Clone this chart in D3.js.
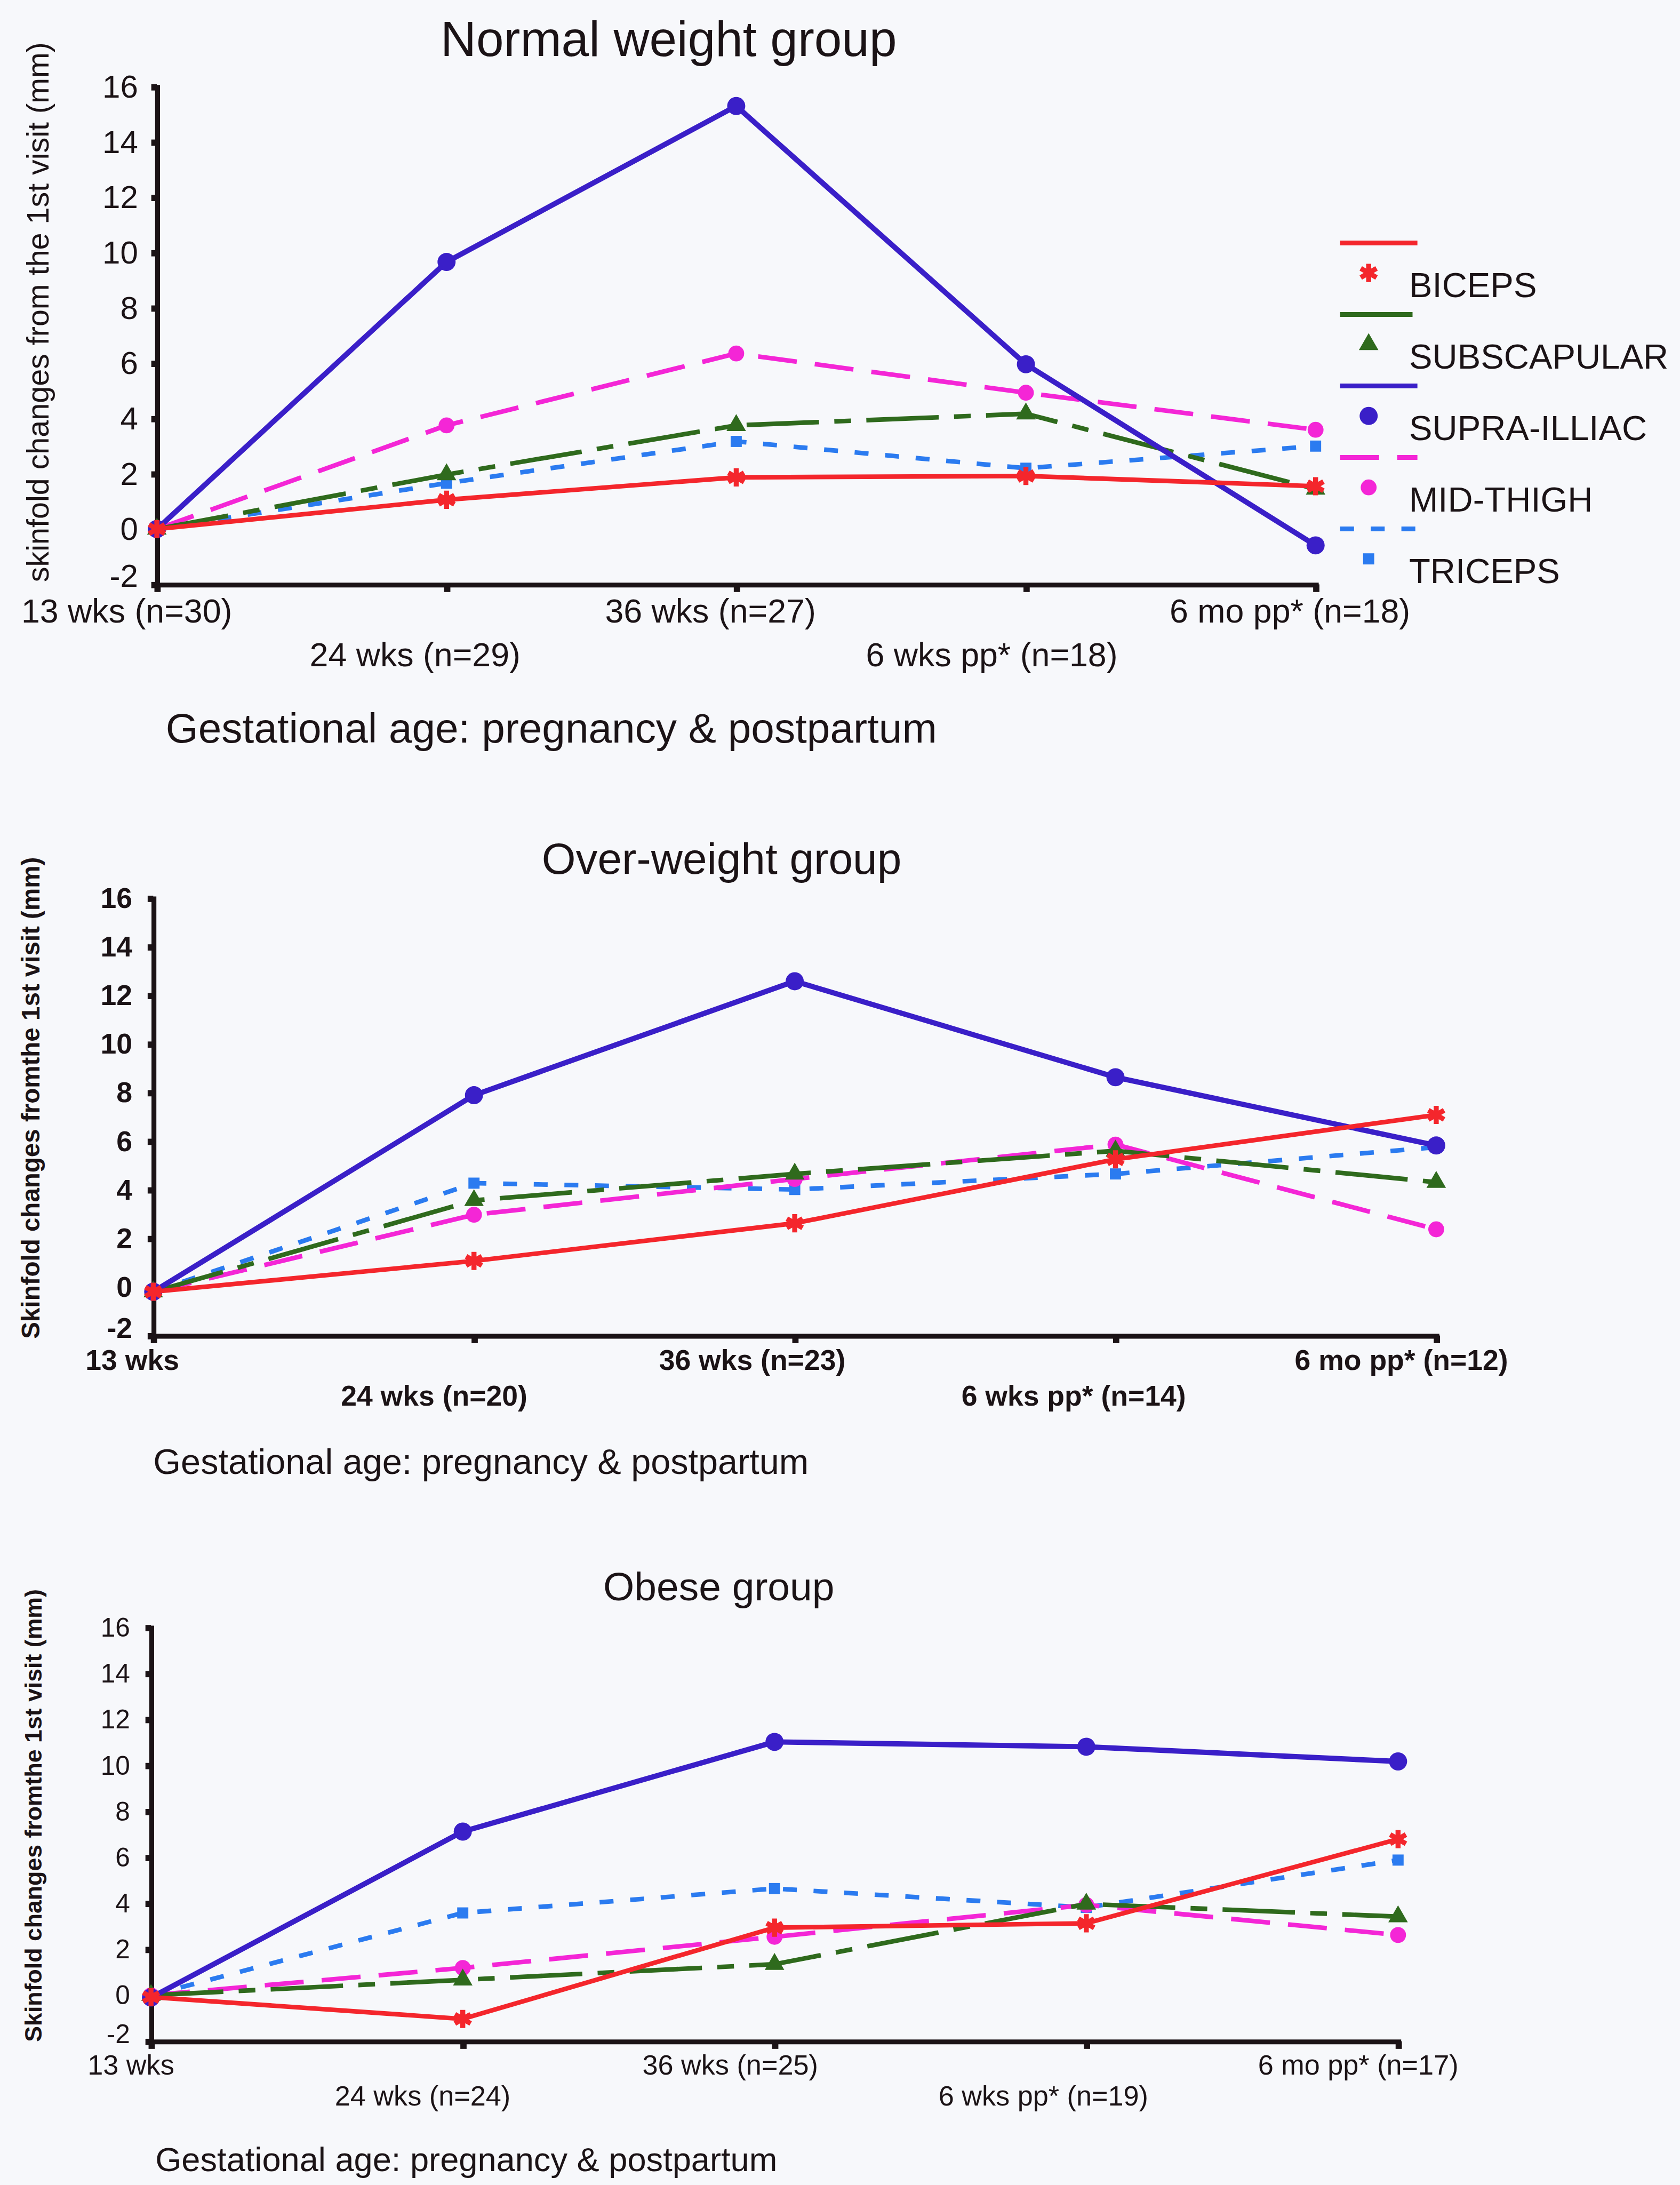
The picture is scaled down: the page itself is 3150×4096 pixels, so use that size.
<!DOCTYPE html>
<html lang="en">
<head>
<meta charset="UTF-8">
<title>Skinfold changes from the 1st visit</title>
<script src="https://d3js.org/d3.v7.min.js"></script>
<style>
  html, body { margin: 0; padding: 0; background: #f7f8fb; }
  svg { display: block; }
  text { font-family: "Liberation Sans", Arial, sans-serif; fill: #1b1316; }
</style>
</head>
<body>
<div id="chart"></div>
<script>
// visits along the x axis
const visits = ["13 wks", "24 wks", "36 wks", "6 wks pp*", "6 mo pp*"];
const normalTickLabels = ["13 wks (n=30)", "24 wks (n=29)", "36 wks (n=27)", "6 wks pp* (n=18)", "6 mo pp* (n=18)"];
const overTickLabels = ["13 wks", "24 wks (n=20)", "36 wks (n=23)", "6 wks pp* (n=14)", "6 mo pp* (n=12)"];
const obeseTickLabels = ["13 wks", "24 wks (n=24)", "36 wks (n=25)", "6 wks pp* (n=19)", "6 mo pp* (n=17)"];
const yTickValues = [-2, 0, 2, 4, 6, 8, 10, 12, 14, 16];
const seriesNames = ["BICEPS", "SUBSCAPULAR", "SUPRA-ILLIAC", "MID-THIGH", "TRICEPS"];

// skinfold change (mm) from the 1st visit
const normalBiceps  = [0, 1.06, 1.87, 1.92, 1.55];
const normalSubscap = [0, 1.97, 3.75, 4.17, 1.45];
const normalSupra   = [0, 9.66, 15.3, 5.96, -0.59];
const normalThigh   = [0, 3.75, 6.35, 4.93, 3.59];
const normalTriceps = [0, 1.66, 3.17, 2.2, 3.0];

const overBiceps  = [-0.2, 1.07, 2.62, 5.25, 7.08];
const overSubscap = [-0.2, 3.56, 4.65, 5.6, 4.31];
const overSupra   = [-0.2, 7.89, 12.58, 8.63, 5.82];
const overThigh   = [-0.2, 2.97, 4.44, 5.86, 2.37];
const overTriceps = [-0.2, 4.27, 4.01, 4.65, 5.75];

const obeseBiceps  = [-0.08, -1.03, 2.94, 3.13, 6.79];
const obeseSubscap = [0, 0.67, 1.35, 3.97, 3.42];
const obeseSupra   = [-0.1, 7.12, 11.02, 10.81, 10.17];
const obeseThigh   = [0, 1.19, 2.54, 3.93, 2.62];
const obeseTriceps = [0, 3.58, 4.64, 3.82, 5.88];

// layout is worked out on a 1206 px wide sheet, then scaled up to the window
const K = 3150 / 1206;
const ink = "#1b1316";

const styles = {
  "BICEPS":       { color: "#f4262c", dash: null,           width: 3.3, symbol: "asterisk" },
  "SUBSCAPULAR":  { color: "#2f6a1d", dash: "52,11,12,11",  width: 3.3, symbol: "triangle" },
  "SUPRA-ILLIAC": { color: "#3a1fc8", dash: null,           width: 3.8, symbol: "bigcircle" },
  "MID-THIGH":    { color: "#f426d6", dash: "28,13",        width: 3.3, symbol: "circle" },
  "TRICEPS":      { color: "#2b7bf0", dash: "10,12",        width: 3.3, symbol: "square" }
};
const drawOrder = ["TRICEPS", "MID-THIGH", "SUBSCAPULAR", "SUPRA-ILLIAC", "BICEPS"];

const panels = [
  {
    title: "Normal weight group", titleX: 480, titleY: 40.3, titleSize: 35.5,
    x0: 112.6, x1: 944.4, yTop: 62.2, yBot: 419.4,
    yLabel: "skinfold changes from the 1st visit (mm)", yLabelX: 27, yLabelY: 224, yLabelSize: 22, yLabelWeight: "normal",
    tickSize: 23, tickWeight: "normal", tickPad: 9.5,
    labels: normalTickLabels, labelSize: 24, labelWeight: "normal",
    rowY: [446.7, 478], dx: [-21.6, -22.6, -18.5, -24.5, -18.4],
    gestX: 119, gestY: 533, gestSize: 30,
    series: { "BICEPS": normalBiceps, "SUBSCAPULAR": normalSubscap, "SUPRA-ILLIAC": normalSupra, "MID-THIGH": normalThigh, "TRICEPS": normalTriceps },
    legend: true
  },
  {
    title: "Over-weight group", titleX: 518, titleY: 627, titleSize: 31.4,
    x0: 110, x1: 1031, yTop: 644.6, yBot: 958.5,
    yLabel: "Skinfold changes fromthe 1st visit (mm)", yLabelX: 22, yLabelY: 788, yLabelSize: 18.2, yLabelWeight: "bold",
    tickSize: 20.5, tickWeight: "bold", tickPad: 11,
    labels: overTickLabels, labelSize: 20.5, labelWeight: "bold",
    rowY: [983, 1009], dx: [-15, -28.6, -30.5, -30, -25],
    gestX: 110, gestY: 1058, gestSize: 25.5,
    series: { "BICEPS": overBiceps, "SUBSCAPULAR": overSubscap, "SUPRA-ILLIAC": overSupra, "MID-THIGH": overThigh, "TRICEPS": overTriceps },
    legend: false
  },
  {
    title: "Obese group", titleX: 516, titleY: 1148.5, titleSize: 28.7,
    x0: 108.4, x1: 1003.6, yTop: 1168, yBot: 1465,
    yLabel: "Skinfold changes fromthe 1st visit (mm)", yLabelX: 24, yLabelY: 1303, yLabelSize: 17.1, yLabelWeight: "bold",
    tickSize: 19, tickWeight: "normal", tickPad: 11,
    labels: obeseTickLabels, labelSize: 20, labelWeight: "normal",
    rowY: [1489, 1511], dx: [-14.4, -28.8, -31.8, -30.8, -28.6],
    gestX: 111.5, gestY: 1558.4, gestSize: 24.2,
    series: { "BICEPS": obeseBiceps, "SUBSCAPULAR": obeseSubscap, "SUPRA-ILLIAC": obeseSupra, "MID-THIGH": obeseThigh, "TRICEPS": obeseTriceps },
    legend: false
  }
];

const svg = d3.select("#chart").append("svg")
    .attr("width", 3150)
    .attr("height", 4096);
svg.append("rect").attr("width", 3150).attr("height", 4096).attr("fill", "#f7f8fb");
const root = svg.append("g").attr("transform", "scale(" + K + ")");

// one marker per series kind
function addMarker(sel, kind, color) {
  let path;
  if (kind === "asterisk") {
    path = d3.symbol(d3.symbolAsterisk || d3.symbolCross, 120)();
    sel.append("path").attr("d", path).attr("fill", "none")
      .attr("stroke", color).attr("stroke-width", 3.6);
    return;
  }
  if (kind === "triangle") path = d3.symbol(d3.symbolTriangle, 85)();
  if (kind === "bigcircle") path = d3.symbol(d3.symbolCircle, Math.PI * 6.5 * 6.5)();
  if (kind === "circle") path = d3.symbol(d3.symbolCircle, Math.PI * 5.7 * 5.7)();
  if (kind === "square") path = d3.symbol(d3.symbolSquare, 64)();
  sel.append("path").attr("d", path).attr("fill", color);
}

function drawPanel(p) {
  const g = root.append("g");

  const x = d3.scalePoint().domain(visits).range([p.x0, p.x1]);
  const y = d3.scaleLinear().domain([-2, 16]).range([p.yBot, p.yTop]);

  // title
  g.append("text")
    .attr("x", p.titleX).attr("y", p.titleY)
    .attr("text-anchor", "middle")
    .attr("font-size", p.titleSize)
    .text(p.title);

  // y axis title
  g.append("text")
    .attr("transform", "translate(" + p.yLabelX + "," + p.yLabelY + ") rotate(-90)")
    .attr("text-anchor", "middle")
    .attr("dominant-baseline", "central")
    .attr("font-size", p.yLabelSize)
    .attr("font-weight", p.yLabelWeight)
    .text(p.yLabel);

  // y axis
  const ya = g.append("g")
    .attr("transform", "translate(" + p.x0 + ",0)")
    .call(d3.axisLeft(y).tickValues(yTickValues).tickFormat(d => String(d))
      .tickSize(4).tickSizeOuter(0).tickPadding(p.tickPad));
  ya.attr("color", ink)
    .attr("font-family", "'Liberation Sans', Arial, sans-serif")
    .attr("font-size", p.tickSize)
    .attr("font-weight", p.tickWeight);
  ya.select(".domain").attr("stroke-width", 3.5).attr("stroke-linecap", "square");
  ya.selectAll(".tick line").attr("stroke-width", 4.5);
  ya.selectAll(".tick text").style("fill", ink);
  // the -2 label sits a little above its tick, clear of the x labels
  ya.selectAll(".tick text").filter(d => d === -2).attr("dy", "0.05em");

  // x axis, labels set below in two staggered rows
  const xa = g.append("g")
    .attr("transform", "translate(0," + p.yBot + ")")
    .call(d3.axisBottom(x).tickSize(5.5).tickSizeOuter(0).tickFormat(""));
  xa.attr("color", ink);
  xa.select(".domain").attr("stroke-width", 3.5).attr("stroke-linecap", "square");
  xa.selectAll(".tick line").attr("stroke-width", 4.5);

  g.selectAll(".xlab")
    .data(visits)
    .join("text")
      .attr("class", "xlab")
      .attr("x", (d, i) => x(d) + p.dx[i])
      .attr("y", (d, i) => p.rowY[i % 2])
      .attr("text-anchor", "middle")
      .attr("font-size", p.labelSize)
      .attr("font-weight", p.labelWeight)
      .text((d, i) => p.labels[i]);

  g.append("text")
    .attr("x", p.gestX).attr("y", p.gestY)
    .attr("font-size", p.gestSize)
    .text("Gestational age: pregnancy & postpartum");

  // series
  const line = d3.line()
    .x((d, i) => x(visits[i]))
    .y(d => y(d));

  drawOrder.forEach(name => {
    const s = styles[name];
    const vals = p.series[name];
    g.append("path")
      .datum(vals)
      .attr("d", line)
      .attr("fill", "none")
      .attr("stroke", s.color)
      .attr("stroke-width", s.width)
      .attr("stroke-dasharray", s.dash)
      .attr("stroke-linejoin", "round");
    vals.forEach((v, i) => {
      const m = g.append("g").attr("transform", "translate(" + x(visits[i]) + "," + y(v) + ")");
      addMarker(m, s.symbol, s.color);
    });
  });

  if (p.legend) {
    const lg = g.append("g");
    seriesNames.forEach((name, i) => {
      const s = styles[name];
      const ly = 174.4 + i * 51.3;
      lg.append("line")
        .attr("x1", 962).attr("x2", 1017.5)
        .attr("y1", ly).attr("y2", ly)
        .attr("stroke", s.color)
        .attr("stroke-width", 3.4)
        .attr("stroke-dasharray", s.dash);
      const m = lg.append("g").attr("transform", "translate(982.5," + (ly + 21.5) + ")");
      addMarker(m, s.symbol, s.color);
      lg.append("text")
        .attr("x", 1011.5).attr("y", ly + 38.8)
        .attr("font-size", 25)
        .text(name);
    });
  }
}

panels.forEach(drawPanel);
</script>
</body>
</html>
